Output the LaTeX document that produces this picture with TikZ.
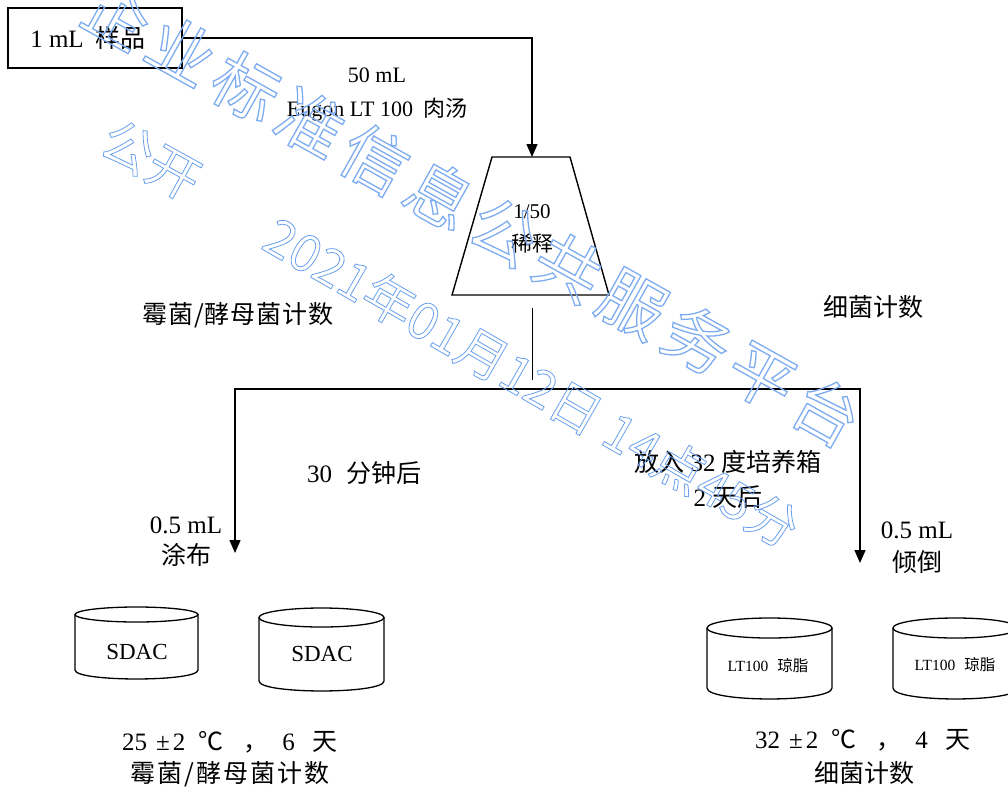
\documentclass[tikz,border=0pt]{standalone}
\usepackage{fontspec}
\setmainfont{Liberation Serif}
\newfontfamily\cjk{Noto Sans CJK SC}
\newfontfamily\cjkw[LetterSpace=4]{Noto Sans CJK SC}
\newfontfamily\cjkww[LetterSpace=8]{Noto Sans CJK SC}
\newfontfamily\wmfont[LetterSpace=12]{Noto Sans CJK SC}
\newfontfamily\wmfontb{Noto Sans CJK SC}
\usetikzlibrary{arrows.meta}
\newcommand\cj[1]{{\cjk #1}}
\newcommand\fs[2]{\fontsize{#1}{#2}\selectfont}
\newcommand\wmstroke[2]{\special{pdf:code #1}#2\special{pdf:code 0 Tr}}
\newcommand\dish[6]{%
  \draw[cyl] (#1,#3) -- (#1,#5) .. controls (#1,#5+1.33*#6) and (#2,#5+1.33*#6) .. (#2,#5) -- (#2,#3);
  \draw[cyl] ({(#1+#2)/2},#3) ellipse [x radius={(#2-#1)/2}, y radius=#4];}
\definecolor{wmblue}{RGB}{125,172,240}
\definecolor{wmblueb}{RGB}{105,160,238}
\begin{document}
\begin{tikzpicture}[x=1pt,y=-1pt,
  lbl/.style={inner sep=0pt, align=center, font=\fs{25}{31}},
  ln/.style={line width=1.4pt},
  thinln/.style={line width=1pt},
  cyl/.style={line width=1.3pt},
  tip/.tip={Triangle[length=13pt,width=11pt]},
  arr/.style={line width=1.4pt, -tip}
  ]
\useasboundingbox (0,0) rectangle (1008,787);
\fill[white] (0,0) rectangle (1008,787);

% sample box and first arrow
\node[draw, ln, minimum width=174pt, minimum height=60pt, inner sep=0pt, font=\fs{25}{30}] (sample) at (95,38) {\hspace*{-14pt}1 mL\hspace{12pt}\cj{样品}};
\coordinate (dtop) at (532,157);
\draw[arr] (sample.east) -| (dtop);
\node[lbl, font=\fs{22}{34}] (broth) at (377,95) {50 mL\\Eugon LT 100\hspace{10pt}\cj{肉汤}};

% dilution flask
\draw[ln] (492,157) -- (570,157) -- (609,295) -- (452,295) -- cycle;
\node[lbl, font=\fs{21}{33}] (dil) at (532,229) {1/50\\\cj{稀释}};

% split
\coordinate (dbot) at (532,308);
\coordinate (split) at (532,380);
\draw[thinln] (dbot) -- (split);
\coordinate (bl) at (235,389);
\coordinate (br) at (860,389);
\coordinate (lend) at (235,553);
\coordinate (rend) at (860,563);
\draw[ln, tip-tip] (lend) -- (bl) -- (br) -- (rend);

% labels
\node[lbl] (moldhdr) at (238,315) {\cjkw 霉菌/酵母菌计数};
\node[lbl] (bacthdr) at (873,307) {\cj{细菌计数}};
\node[lbl] (wait) at (364,473) {30\hspace{14pt}\cj{分钟后}};
\node[lbl] (spread) at (186,542) {0.5 mL\\\cj{涂布}};
\node[lbl, font=\fs{25}{35}] (incub) at (728,479) {\cj{放入} 32 \cj{度培养箱}\\2 \cj{天后}};
\node[lbl, font=\fs{25}{33}] (pour) at (917,548) {0.5 mL\\\cj{倾倒}};

% dishes
\dish{75}{198}{614.5}{7.5}{670}{9}
\dish{259}{384}{617.5}{9.5}{681}{10}
\dish{707}{832}{628}{10}{688}{11}
\dish{893}{1018}{628}{10}{688}{11}
\node[lbl, font=\fs{23}{28}] (sdac1) at (137,652) {SDAC};
\node[lbl, font=\fs{23}{28}] (sdac2) at (322,654) {SDAC};
\node[lbl, font=\fs{15.5}{18}] (lt1) at (768,666) {LT100\hspace{9pt}\cj{琼脂}};
\node[lbl, font=\fs{15.5}{18}] (lt2) at (955,665) {LT100\hspace{9pt}\cj{琼脂}};

% bottom conditions
\node[lbl] (cond1) at (230,742) {25\hspace{9pt}±\hspace{3pt}2\hspace{13pt}\cj{℃}\hspace{20pt}\cj{，}\hspace{14pt}6\hspace{18pt}\cj{天}};
\node[lbl] (cnt1) at (230,774) {\cjkww 霉菌/酵母菌计数};
\node[lbl] (cond2) at (863,740) {32\hspace{9pt}±\hspace{3pt}2\hspace{13pt}\cj{℃}\hspace{20pt}\cj{，}\hspace{14pt}4\hspace{18pt}\cj{天}};
\node[lbl] (cnt2) at (864,773) {\cj{细菌计数}};

% watermark
\node[inner sep=0pt, text=wmblue, font={\wmfont\fontsize{66}{70}\selectfont}, rotate=-29.2] (wmA) at (472,213) {\wmstroke{1 Tr 1.3 w}{企业标准信息公共服务平台}};
\node[inner sep=0pt, text=wmblueb, font={\wmfontb\fontsize{52}{56}\selectfont}, rotate=-29] (wmB) at (151,160) {\wmstroke{1 Tr 0.8 w}{公开}};
\node[inner sep=0pt, text=wmblueb, font={\wmfontb\fontsize{51}{56}\selectfont}, rotate=-29.9] (wmC) at (532,382) {\wmstroke{1 Tr 0.8 w}{2021年01月12日 14点45分}};
\end{tikzpicture}
\end{document}
